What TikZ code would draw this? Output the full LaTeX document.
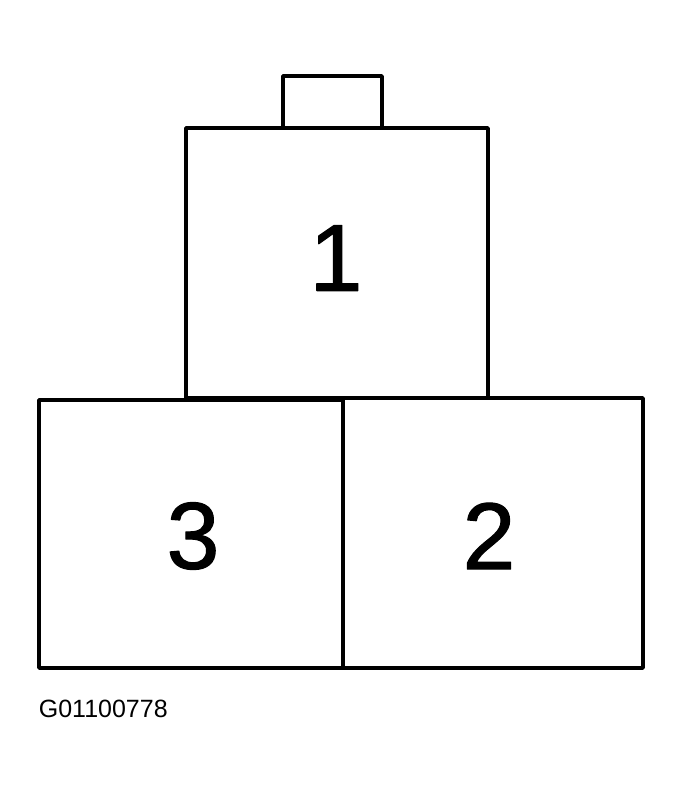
\documentclass[tikz,border=0pt]{standalone}
\usepackage{fontspec}
\setmainfont{Liberation Sans}
\newfontfamily\numerofont[FakeBold=1.2]{Liberation Sans}
\usepackage{tikz}

\begin{document}
\begin{tikzpicture}[x=1pt,y=-1pt,line width=3.7pt,line join=round]
\useasboundingbox (0,0) rectangle (684,792);

%liitin
\draw (283,128) -- (283,76) -- (382,76) -- (382,128);
\draw (186,398) rectangle (488,128);
\draw (39,400) rectangle (343,668);
\draw (343,398) rectangle (643,668);

%numerot
\node (yksi) at (336,258) {\numerofont\fontsize{95}{95}\selectfont 1};
\node (kolme) at (193,536) {\numerofont\fontsize{95}{95}\selectfont 3};
\node (kaksi) at (489,536) {\numerofont\fontsize{95}{95}\selectfont 2};

%tunnus
\node[anchor=west, inner sep=0pt] (tunnus) at (37,709) {\fontsize{25}{25}\selectfont G01100778};

\end{tikzpicture}
\end{document}
